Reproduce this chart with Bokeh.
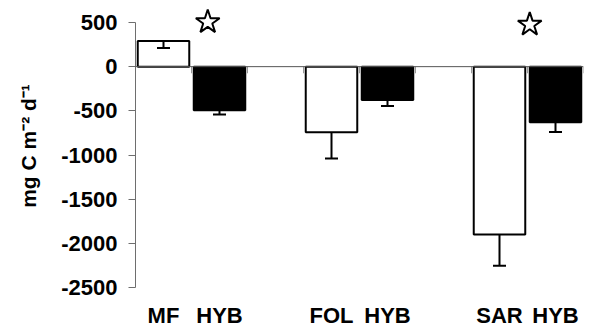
import numpy as np
from bokeh.plotting import figure
from bokeh.models import (ColumnDataSource, Range1d, FixedTicker, Span, Whisker, TeeHead)
from bokeh.embed import file_html
from bokeh.resources import INLINE

# ---- data ----
groups = ["MF", "FOL", "SAR"]
hyb_label = "HYB"
native_vals = [290, -742, -1896]
native_err = [80, 296, 354]
hyb_vals = [-494, -377, -629]
hyb_err = [48, 68, 109]
star_x = [1.29, 7.04]
star_y = [504, 476]
y_ticks = [-2500, -2000, -1500, -1000, -500, 0, 500]
y_tick_labels = ["-2500", "-2000", "-1500", "-1000", "-500", "0", "500"]

FONT = "Liberation Sans"

gi = np.arange(len(groups))
x_native = gi * 3 + 0.5
x_hyb = gi * 3 + 1.5

W, H = 591, 330
BOTTOM = 38                    # px reserved below the frame for category labels
frame_bottom = H - BOTTOM
px_per_unit = 0.0888
y_end = 500 + 22 / px_per_unit
y_start = -2500 - (frame_bottom - 288.3) / px_per_unit

p = figure(width=W, height=H, output_backend="svg", toolbar_location=None,
           x_range=Range1d(0, 8), y_range=Range1d(y_start, y_end),
           min_border_left=135, min_border_right=W - 583,
           min_border_top=0, min_border_bottom=BOTTOM)
p.outline_line_color = None
p.xgrid.visible = False
p.ygrid.visible = False
p.background_fill_color = "white"
p.border_fill_color = "white"

x_ticks = []
x_overrides = {}
for xn, xh, g in zip(x_native, x_hyb, groups):
    x_ticks += [float(xn), float(xh)]
    x_overrides[float(xn)] = g
    x_overrides[float(xh)] = hyb_label

xax = p.xaxis[0]
xax.ticker = FixedTicker(ticks=x_ticks)
xax.major_label_overrides = x_overrides
xax.axis_line_color = None
xax.major_tick_line_color = None
xax.minor_tick_line_color = None
xax.major_tick_out = 0
xax.major_tick_in = 0
xax.major_label_standoff = 11
xax.major_label_text_font = FONT
xax.major_label_text_font_style = "bold"
xax.major_label_text_font_size = "22px"
xax.major_label_text_color = "black"

yax = p.yaxis[0]
yax.ticker = FixedTicker(ticks=y_ticks)
yax.major_label_overrides = {t: s for t, s in zip(y_ticks, y_tick_labels)}
yax.bounds = (-2500, 500)
yax.axis_line_color = "#6e6e6e"
yax.major_tick_line_color = "#6e6e6e"
yax.major_tick_out = 7
yax.major_tick_in = 0
yax.minor_tick_line_color = None
yax.major_label_standoff = 11
yax.major_label_text_font = FONT
yax.major_label_text_font_style = "bold"
yax.major_label_text_font_size = "22px"
yax.major_label_text_color = "black"
yax.axis_label = "mg C m\u207b\u00b2 d\u207b\u00b9"
yax.axis_label_text_font = FONT
yax.axis_label_text_font_style = "bold"
yax.axis_label_text_font_size = "21px"
yax.axis_label_text_color = "black"
yax.axis_label_standoff = 18

# zero line
p.add_layout(Span(location=0, dimension="width", line_color="#555555", line_width=1))

# category tick marks on zero line
cat_ticks = np.arange(0, 9)
p.segment(x0=cat_ticks, y0=0, x1=cat_ticks, y1=-75, line_color="#999999", line_width=1)

src_n = ColumnDataSource(dict(x=x_native, top=native_vals,
                              lower=np.array(native_vals) - np.array(native_err)))
src_h = ColumnDataSource(dict(x=x_hyb, top=hyb_vals,
                              lower=np.array(hyb_vals) - np.array(hyb_err)))

p.vbar(x="x", top="top", bottom=0, width=0.92, source=src_n,
       fill_color="white", line_color="black", line_width=2)
p.vbar(x="x", top="top", bottom=0, width=0.92, source=src_h,
       fill_color="black", line_color="black", line_width=2)

for src in (src_n, src_h):
    w = Whisker(base="x", upper="top", lower="lower", source=src,
                lower_head=TeeHead(size=13, line_width=2, line_color="black"),
                upper_head=None, line_width=2, line_color="black", level="annotation")
    p.add_layout(w)

p.scatter(x=star_x, y=star_y, marker="star", size=25, fill_color="white",
          line_color="black", line_width=2)

open("out.html", "w").write(file_html(p, INLINE))
